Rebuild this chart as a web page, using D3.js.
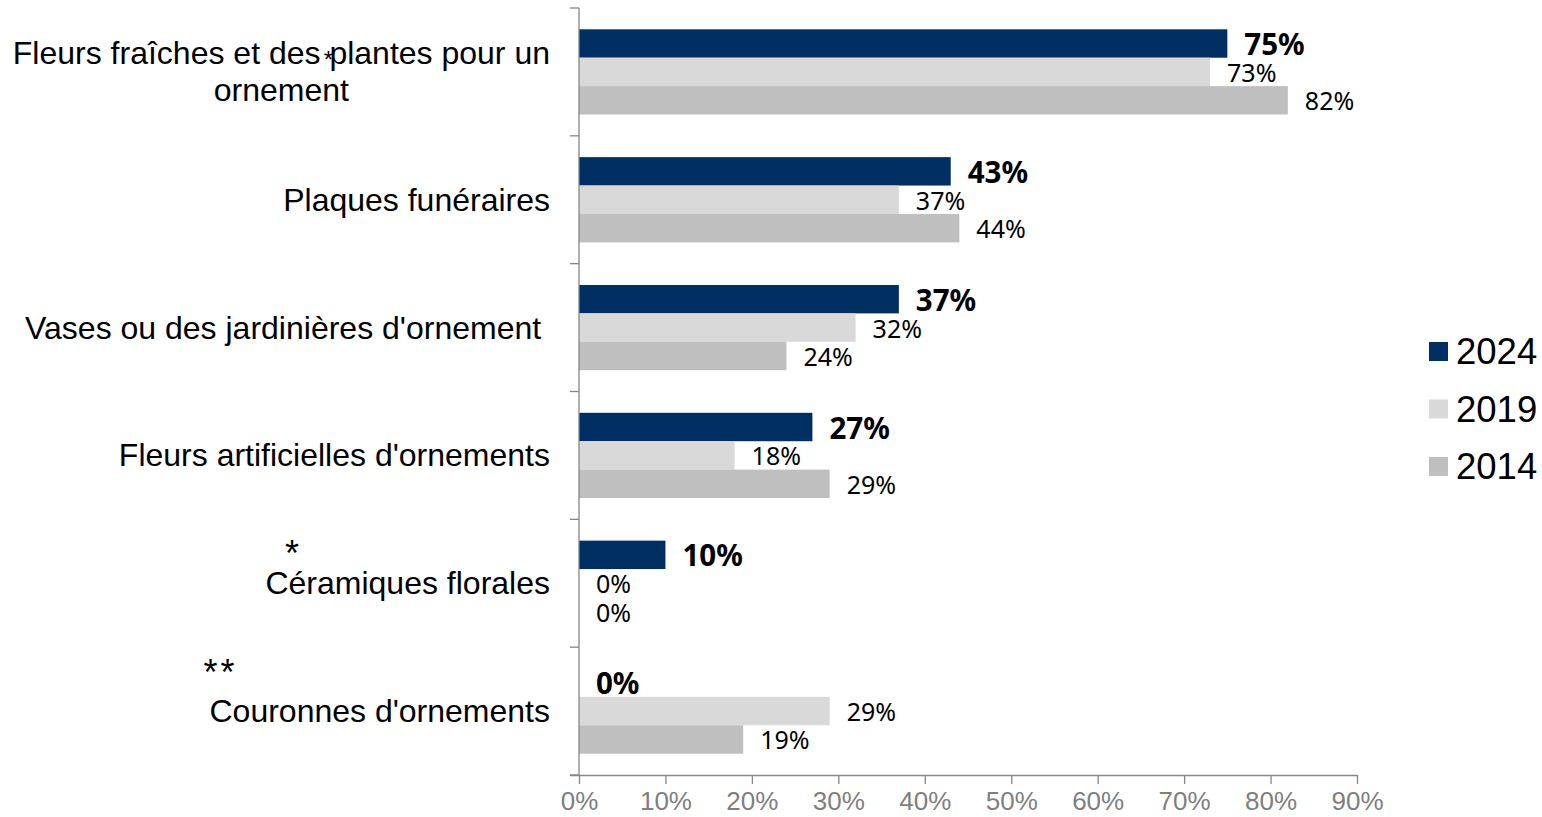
<!DOCTYPE html>
<html><head><meta charset="utf-8">
<script src="https://cdn.jsdelivr.net/npm/d3@7"></script>
<style>
html,body{margin:0;padding:0;background:#fff;}
svg{display:block;}
</style></head>
<body>
<svg id="chart" width="1542" height="817"></svg>
<script>
const categories = [
  "Fleurs fraîches et des plantes pour un|ornement",
  "Plaques funéraires",
  "Vases ou des jardinières d'ornement\u00a0",
  "Fleurs artificielles d'ornements",
  "Céramiques florales",
  "Couronnes d'ornements"
];
const years = ["2024", "2019", "2014"];
const values2024 = [75, 43, 37, 27, 10, 0];
const values2019 = [73, 37, 32, 18, 0, 29];
const values2014 = [82, 44, 24, 29, 0, 19];
const xTicks = [0, 10, 20, 30, 40, 50, 60, 70, 80, 90];
const notes = ["*", "", "", "", "*", "**"];
const colors = {"2024": "#002f63", "2019": "#d9d9d9", "2014": "#bfbfbf"};

(function () {
const series = {"2024": values2024, "2019": values2019, "2014": values2014};
const svg = d3.select("#chart");
const mLeft = 579, mRight = 1357, mTop = 8, mBottom = 775;

const x = d3.scaleLinear().domain([0, 90]).range([mLeft, mRight]);
const yBand = d3.scaleBand().domain(categories).range([mTop, mBottom]).padding(0);
const yInner = d3.scaleBand().domain(years).range([0, yBand.bandwidth()]).paddingInner(0).paddingOuter(0.75);

// bars
categories.forEach((c, i) => {
  const g = svg.append("g").attr("transform", `translate(0,${yBand(c)})`);
  years.forEach(yr => {
    const v = series[yr][i];
    g.append("rect")
      .attr("x", x(0)).attr("y", yInner(yr))
      .attr("width", x(v) - x(0)).attr("height", yInner.bandwidth())
      .attr("fill", colors[yr]);
    g.append("text")
      .attr("x", x(v) + 17).attr("y", yInner(yr) + yInner.bandwidth() / 2)
      .attr("dominant-baseline", "central")
      .attr("font-family", "'Noto Sans', sans-serif")
      .attr("font-size", yr === "2024" ? 29.5 : 25)
      .attr("font-weight", yr === "2024" ? "bold" : "normal")
      .attr("fill", "#000")
      .text(v + "%");
  });
});

// x axis
const xAxis = svg.append("g").attr("transform", `translate(0,${mBottom})`)
  .call(d3.axisBottom(x).tickValues(xTicks).tickFormat(d => d + "%").tickSize(9).tickSizeOuter(0));
xAxis.select(".domain").attr("stroke", "#868686").attr("stroke-width", 1.3)
  .attr("d", `M${mLeft - 9},0.5H${mRight}`);
xAxis.selectAll(".tick line").attr("stroke", "#868686").attr("stroke-width", 1.3);
xAxis.selectAll(".tick text").attr("fill", "#7f7f7f")
  .attr("font-family", "'Liberation Sans', Arial, sans-serif").attr("font-size", 26).attr("dy", "0.9em");

// y axis with boundary ticks
const yAxisG = svg.append("g");
yAxisG.append("line").attr("x1", mLeft).attr("x2", mLeft).attr("y1", mTop).attr("y2", mBottom)
  .attr("stroke", "#868686").attr("stroke-width", 1.3);
const bounds = categories.map(c => yBand(c)).concat([mBottom]);
yAxisG.selectAll("line.tk").data(bounds).join("line").attr("class", "tk")
  .attr("x1", mLeft - 9).attr("x2", mLeft).attr("y1", d => d).attr("y2", d => d)
  .attr("stroke", "#868686").attr("stroke-width", 1.3);

// category labels
const labelX = 550;
categories.forEach((c, i) => {
  const cy = yBand(c) + yBand.bandwidth() / 2;
  const lines = c.split("|");
  const t = svg.append("text")
    .attr("font-family", "'Liberation Sans', Arial, sans-serif")
    .attr("font-size", 32).attr("fill", "#000");
  if (lines.length === 1) {
    t.attr("x", labelX).attr("y", cy + 11).attr("text-anchor", "end").text(lines[0]);
  } else {
    const tspans = lines.map((l, k) => t.append("tspan").text(l));
    const w = d3.max(tspans.map(s => s.node().getComputedTextLength()));
    const cx = labelX - w / 2;
    tspans.forEach((s, k) => s.attr("x", cx).attr("y", cy - 8 + k * 37).attr("text-anchor", "middle"));
  }
});

// asterisk notes
const noteX = [328.5, 0, 0, 0, 292, 220.5];
const noteDy = [-3.5, 0, 0, 0, -17, -26.5];
const noteSize = [24, 0, 0, 0, 36, 36];
notes.forEach((n, i) => {
  if (!n) return;
  const cy = yBand(categories[i]) + yBand.bandwidth() / 2;
  svg.append("text").attr("x", noteX[i]).attr("y", cy + noteDy[i])
    .attr("text-anchor", "middle")
    .attr("font-family", "'Liberation Sans', Arial, sans-serif")
    .attr("letter-spacing", n.length > 1 ? 3 : 0)
    .attr("font-size", noteSize[i]).attr("fill", "#000").text(n);
});

// legend
const lg = svg.append("g");
years.forEach((yr, k) => {
  const ly = 351.5 + k * 57.5;
  lg.append("rect").attr("x", 1429).attr("y", ly - 9.5).attr("width", 19).attr("height", 19).attr("fill", colors[yr]);
  lg.append("text").attr("x", 1456).attr("y", ly).attr("dominant-baseline", "central")
    .attr("font-family", "'Liberation Sans', Arial, sans-serif").attr("font-size", 36.5)
    .attr("fill", "#000").text(yr);
});
})();
</script>
</body></html>
